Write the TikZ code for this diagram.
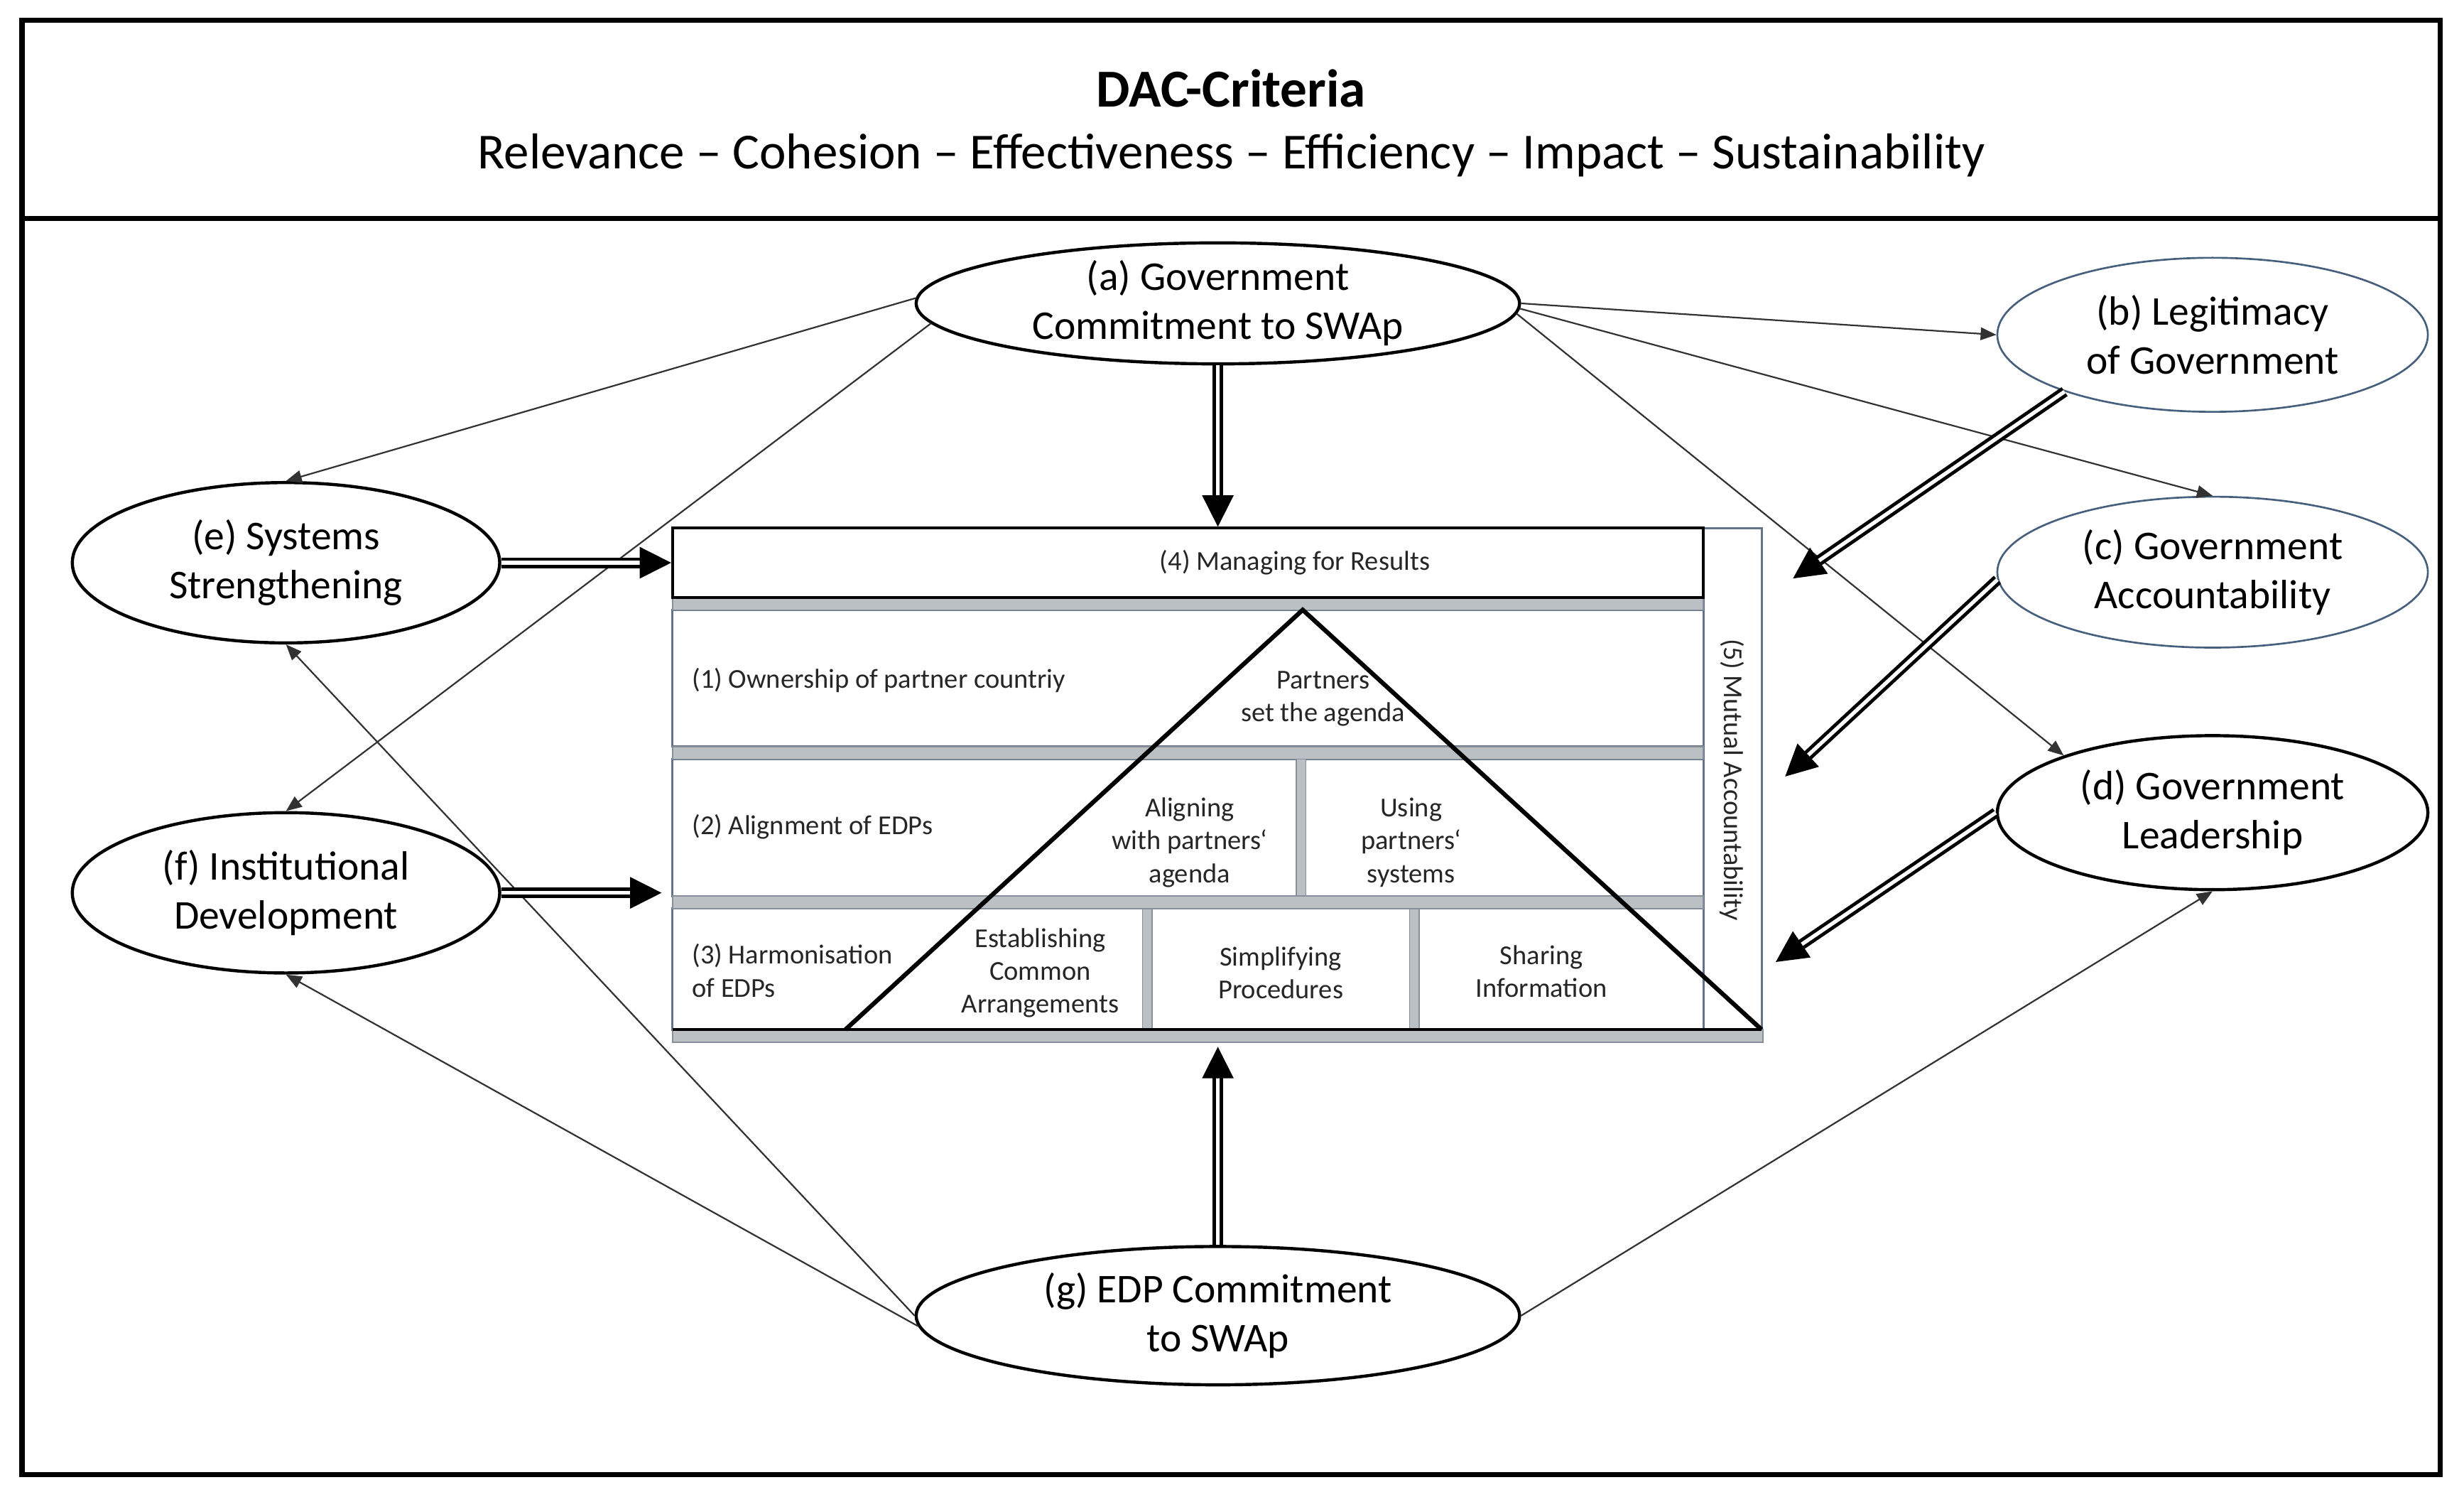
\documentclass[tikz,border=0pt]{standalone}
\usepackage{fontspec}
\setmainfont{Carlito}
\usetikzlibrary{arrows.meta,calc,shapes.geometric}
\definecolor{ellblue}{RGB}{70,95,125}
\definecolor{boxblue}{RGB}{100,115,135}
\definecolor{bargray}{RGB}{187,192,197}
\definecolor{baredge}{RGB}{135,143,152}
\definecolor{thinline}{RGB}{50,50,50}
\newcommand{\dblarr}[2]{%
  \draw[dblline, shorten >=9pt] (#1) -- (#2);
  \draw[dbltip] ($(#2)!10pt!(#1)$) -- (#2);}
\begin{document}
\begin{tikzpicture}[x=0.5pt,y=-0.5pt,
  ell/.style={ellipse, draw=black, line width=1pt, fill=white, inner xsep=0pt, inner ysep=-2pt, align=center, font=\fontsize{13}{15.6}\selectfont},
  ellb/.style={ell, draw=ellblue, line width=0.6pt},
  thinarr/.style={draw=thinline, line width=0.5pt, -{Triangle[length=5pt,width=4pt]}},
  dblline/.style={draw=black, line width=1.1pt, double=white, double distance=1.2pt},
  dbltip/.style={line width=0.4pt, -{Triangle[length=10pt,width=10pt]}},
  cell/.style={font=\fontsize{8.7}{10.5}\selectfont, inner sep=0pt, align=center, text=black!85},
  bar/.style={fill=bargray, draw=baredge, line width=0.4pt},
  rowbox/.style={draw=boxblue, line width=0.7pt, fill=white},
]
\useasboundingbox (0,0) rectangle (1568,952);

% frame
\draw[line width=1.6pt] (14,12.8) rectangle (1553,938);
\draw[line width=1.6pt] (14,139) -- (1553,139);

% title
\node[font=\fontsize{17}{20}\selectfont\bfseries, anchor=base] (title) at (783.5,68) {DAC-Criteria};
\node[font=\fontsize{16.05}{19}\selectfont, anchor=base] (crit) at (783.5,107.5) {Relevance – Cohesion – Effectiveness – Efficiency – Impact – Sustainability};

% central block
\node[draw=boxblue, line width=0.7pt, minimum width=18.5pt, minimum height=159.5pt, inner sep=0pt] (r5) at (1102.5,495.5) {};
\draw[rowbox] (428,388) rectangle (1084,475);
\draw[rowbox] (428,483) rectangle (1084,570);
\draw[rowbox] (428,578) rectangle (1084,655);
\filldraw[bar] (428,380) rectangle (1084,388);
\filldraw[bar] (428,475) rectangle (1084,483);
\filldraw[bar] (428,570) rectangle (1084,578);
\filldraw[bar] (428,655) rectangle (1122,663);
\filldraw[bar] (825,483) rectangle (831,570);
\filldraw[bar] (727,578) rectangle (733,655);
\filldraw[bar] (897,578) rectangle (903,655);
\node[draw=black, line width=0.9pt, fill=white, minimum width=328pt, minimum height=22pt, inner sep=0pt] (r4) at (756,358) {};
\draw[line width=1pt] (428,655) -- (1121,655);
\draw[line width=1.4pt, line join=miter] (538,655) -- (829,388) -- (1121,655);

\node[cell] (t4) at (824,358) {(4) Managing for Results};
\node[cell, rotate=-90] (t5) at (1102,496) {(5) Mutual Accountability};
\node[cell, anchor=west] (t1) at (440,433) {(1) Ownership of partner countriy};
\node[cell] (t1b) at (842,444.5) {Partners\\set the agenda};
\node[cell, anchor=west] (t2) at (440,526) {(2) Alignment of EDPs};
\node[cell] (t2a) at (757,536) {Aligning\\with partners‘\\agenda};
\node[cell] (t2b) at (898,536) {Using\\partners‘\\systems};
\node[cell, anchor=west, align=left] (t3) at (440,617.5) {(3) Harmonisation\\of EDPs};
\node[cell] (t3a) at (662,619) {Establishing\\Common\\Arrangements};
\node[cell] (t3b) at (815,619) {Simplifying\\Procedures};
\node[cell] (t3c) at (981,618) {Sharing\\Information};

% ellipses
\node[ell, minimum width=192pt, minimum height=38.5pt] (a) at (775,193) {(a) Government\\Commitment to SWAp};
\node[ellb, minimum width=137pt, minimum height=49pt] (b) at (1408,213) {(b) Legitimacy\\of Government};
\node[ellb, minimum width=137pt, minimum height=48pt] (c) at (1408,364) {(c) Government\\Accountability};
\node[ell, minimum width=137pt, minimum height=49pt] (d) at (1408,517) {(d) Government\\Leadership};
\node[ell, minimum width=136pt, minimum height=51pt] (e) at (182,358) {(e) Systems\\Strengthening};
\node[ell, minimum width=136pt, minimum height=51pt] (f) at (182,568) {(f) Institutional\\Development};
\node[ell, minimum width=192pt, minimum height=44pt] (g) at (775,837) {(g) EDP Commitment\\to SWAp};

% thin arrows
\draw[thinarr] (a.179) -- (e.north);
\draw[thinarr] (a.184) -- (f.north);
\draw[thinarr] (a.east) -- (b.west);
\draw[thinarr] (a.359) -- (c.north);
\draw[thinarr] (a.358) -- (d.159);
\draw[thinarr] (g.west) -- (e.south);
\draw[thinarr] (g.182) -- (f.south);
\draw[thinarr] (g.east) -- (d.south);

% double arrows
\coordinate (ta) at (a.south |- r4.north);
\coordinate (tg) at (775,666);
\coordinate (te) at (e.east -| r4.west);
\coordinate (tf) at (421,568);
\coordinate (tb) at (1141,368);
\coordinate (tc) at (1136,494);
\coordinate (td) at (1130,612);
\dblarr{a.south}{ta}
\dblarr{g.north}{tg}
\dblarr{e.east}{te}
\dblarr{f.east}{tf}
\dblarr{b.201}{tb}
\dblarr{c.182}{tc}
\dblarr{d.west}{td}
\end{tikzpicture}
\end{document}
